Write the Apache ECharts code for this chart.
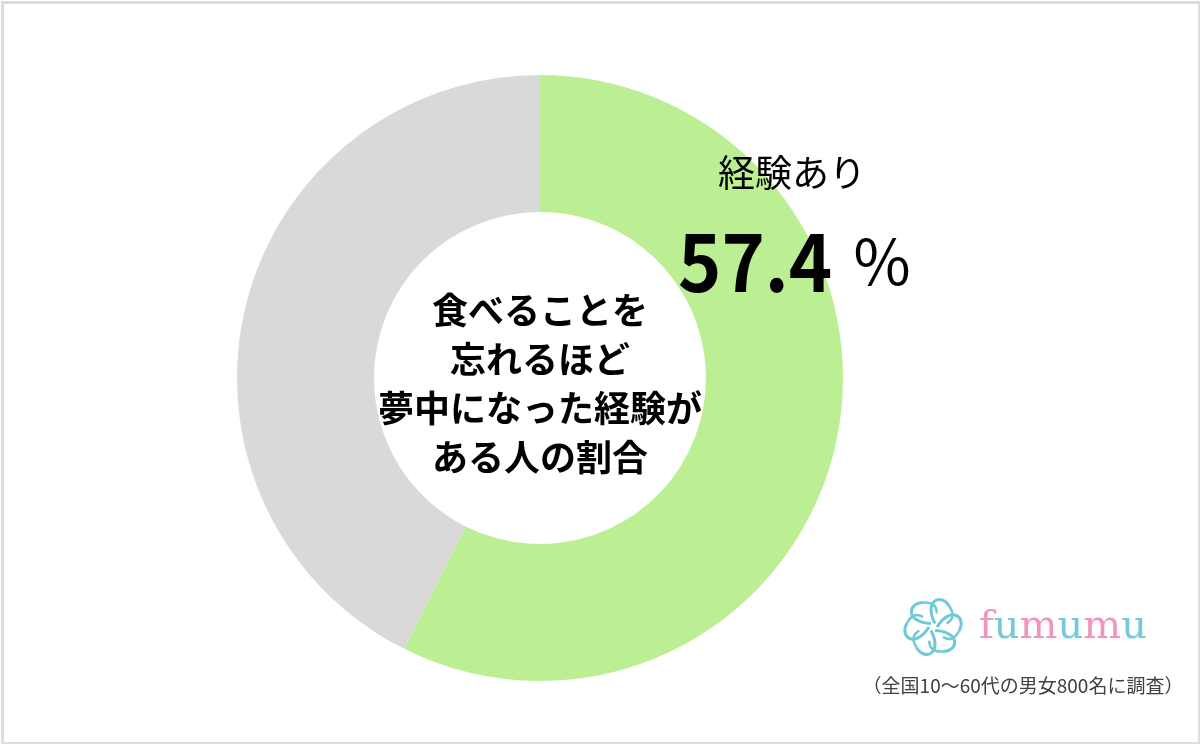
<!DOCTYPE html>
<html>
<head>
<meta charset="utf-8">
<script src="https://cdn.jsdelivr.net/npm/echarts@6/dist/echarts.min.js"></script>
<style>
html,body{margin:0;padding:0;background:#fff;}
#c{width:1200px;height:744px;}
</style>
</head>
<body>
<div id="c"></div>
<script>
const categories = ['経験あり', '経験なし'];
const values = [57.4, 42.6];
const colors = ['#bcef94', '#d9d9d9'];
const centerLines = ['食べることを', '忘れるほど', '夢中になった経験が', 'ある人の割合'];
const noteText = '（全国10〜60代の男女800名に調査）';
const brand = ['f', 'u', 'm', 'u', 'm', 'u'];

const chart = echarts.init(document.getElementById('c'), null, {renderer: 'canvas'});
const FONT = '"Noto Sans CJK JP", "Noto Sans", sans-serif';
const SERIF = '"DejaVu Serif", "Liberation Serif", serif';

// flower icon petals
const cx = 933, cy = 627;
const petals = [];
for (let i = 0; i < 6; i++) {
  const a = i * 60;
  petals.push({
    type: 'bezierCurve', z: 100,
    x: cx, y: cy, rotation: -a * Math.PI / 180,
    shape: {x1: 4, y1: 0, x2: 26, y2: 4, cpx1: 18, cpy1: -22, cpx2: 34, cpy2: -10},
    style: {stroke: '#6fcad7', lineWidth: 3, fill: null},
    silent: true
  });
  petals.push({
    type: 'bezierCurve', z: 100,
    x: cx, y: cy, rotation: -a * Math.PI / 180,
    shape: {x1: 26, y1: 4, x2: 10, y2: 10, cpx1: 22, cpy1: 12, cpx2: 16, cpy2: 14},
    style: {stroke: '#6fcad7', lineWidth: 2.5, fill: null},
    silent: true
  });
}

const brandRich = {
  p: {fontFamily: SERIF, fontSize: 40, fill: '#f294bd'},
  c: {fontFamily: SERIF, fontSize: 40, fill: '#73cbd8'}
};
const brandText = brand.map(ch => (ch === 'u' ? '{c|' : '{p|') + ch + '}').join('');

chart.setOption({
  animation: false,
  backgroundColor: '#ffffff',
  series: [{
    type: 'pie',
    z: 1,
    center: [540, 378],
    radius: [166, 303],
    startAngle: 90,
    clockwise: true,
    silent: true,
    label: {show: false},
    labelLine: {show: false},
    emphasis: {disabled: true},
    itemStyle: {borderWidth: 0},
    data: categories.map((c, i) => ({name: c, value: values[i], itemStyle: {color: colors[i]}}))
  }],
  graphic: [
    {
      type: 'rect', left: 0, top: 0, silent: true, z: 100,
      shape: {x: 1, y: 1, width: 1197, height: 741},
      style: {fill: null, stroke: '#dcdcdc', lineWidth: 3}
    },
    {
      type: 'text', x: 540, y: 384, silent: true, z: 100,
      style: {
        text: centerLines.join('\n'),
        font: 'bold 36px ' + FONT,
        lineHeight: 49,
        fill: '#000',
        align: 'center',
        verticalAlign: 'middle'
      }
    },
    {
      type: 'text', x: 792, y: 173, silent: true, z: 100,
      style: {
        text: categories[0],
        font: '37px ' + FONT,
        fill: '#000',
        align: 'center',
        verticalAlign: 'middle'
      }
    },
    {
      type: 'text', x: 678, y: 262, scaleX: 0.92, silent: true, z: 100,
      style: {
        text: values[0].toFixed(1),
        font: 'bold 80px ' + FONT,
        fill: '#000',
        align: 'left',
        verticalAlign: 'middle'
      }
    },
    {
      type: 'text', x: 851, y: 262, silent: true, z: 100,
      style: {
        text: '％',
        font: '62px ' + FONT,
        fill: '#000',
        align: 'left',
        verticalAlign: 'middle'
      }
    },
    {
      type: 'group', silent: true, z: 100,
      children: petals
    },
    {
      type: 'text', x: 979, y: 628, silent: true, z: 100,
      style: {
        text: brandText,
        rich: brandRich,
        align: 'left',
        verticalAlign: 'middle'
      }
    },
    {
      type: 'text', x: 1023, y: 686, silent: true, z: 100,
      style: {
        text: noteText,
        font: '19px ' + FONT,
        fill: '#404040',
        align: 'center',
        verticalAlign: 'middle'
      }
    }
  ]
});
</script>
</body>
</html>
